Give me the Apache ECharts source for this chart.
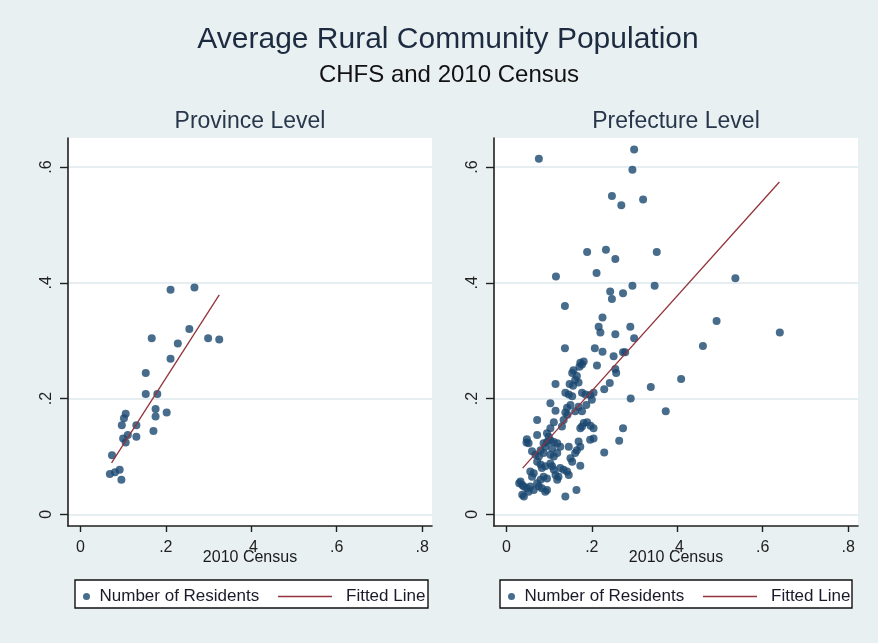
<!DOCTYPE html>
<html>
<head>
<meta charset="utf-8">
<script src="https://cdn.jsdelivr.net/npm/echarts@6/dist/echarts.min.js"></script>
<style>
  html, body { margin: 0; padding: 0; background: #e9f0f2; }
  #chart { width: 878px; height: 643px; }
</style>
</head>
<body>
<div id="chart"></div>
<script>
// Tick positions shown on both panels
const xTicks = [0, 0.2, 0.4, 0.6, 0.8];
const yTicks = [0, 0.2, 0.4, 0.6];

// Province level: [2010 Census, CHFS number of residents]
const provincePoints = [
  [0.211, 0.388], [0.267, 0.392], [0.255, 0.320], [0.167, 0.304], [0.299, 0.304],
  [0.325, 0.302], [0.228, 0.295], [0.211, 0.269], [0.153, 0.244], [0.153, 0.208],
  [0.180, 0.208], [0.176, 0.182], [0.176, 0.169], [0.202, 0.176], [0.171, 0.144],
  [0.106, 0.174], [0.102, 0.166], [0.097, 0.154], [0.131, 0.154], [0.131, 0.134],
  [0.111, 0.137], [0.100, 0.131], [0.106, 0.124], [0.074, 0.102], [0.069, 0.070],
  [0.081, 0.073], [0.092, 0.077], [0.096, 0.060]
];
const provinceFitX = [0.073, 0.325];
const provinceFitY = [0.089, 0.379];

// Prefecture level: [2010 Census, CHFS number of residents]
const prefecturePoints = [
  [0.076, 0.614], [0.299, 0.630], [0.295, 0.595], [0.247, 0.550], [0.269, 0.534], [0.320, 0.544],
  [0.189, 0.453], [0.233, 0.457], [0.255, 0.441], [0.352, 0.453], [0.116, 0.411], [0.211, 0.417],
  [0.295, 0.395], [0.347, 0.395], [0.243, 0.385], [0.247, 0.372], [0.273, 0.382], [0.137, 0.360],
  [0.225, 0.340], [0.216, 0.324], [0.220, 0.314], [0.255, 0.311], [0.290, 0.324], [0.299, 0.304],
  [0.137, 0.287], [0.207, 0.287], [0.225, 0.281],
  [0.536, 0.408], [0.492, 0.334], [0.640, 0.314], [0.460, 0.291], [0.409, 0.234], [0.373, 0.178],
  [0.338, 0.220], [0.291, 0.200], [0.273, 0.149], [0.264, 0.127], [0.229, 0.107],
  [0.251, 0.273], [0.273, 0.280], [0.278, 0.280],
  [0.173, 0.262], [0.181, 0.264], [0.171, 0.255], [0.177, 0.259],
  [0.212, 0.257], [0.157, 0.249], [0.154, 0.244], [0.255, 0.251], [0.257, 0.244],
  [0.165, 0.239], [0.161, 0.232], [0.169, 0.228], [0.115, 0.225], [0.242, 0.227], [0.229, 0.216],
  [0.148, 0.225], [0.156, 0.222], [0.138, 0.210], [0.146, 0.207], [0.154, 0.204],
  [0.177, 0.210], [0.185, 0.207], [0.196, 0.206], [0.204, 0.210], [0.200, 0.198],
  [0.103, 0.192], [0.115, 0.179], [0.142, 0.184], [0.150, 0.189], [0.138, 0.176],
  [0.169, 0.186], [0.177, 0.178], [0.187, 0.189], [0.161, 0.178],
  [0.143, 0.172], [0.134, 0.163], [0.130, 0.152], [0.072, 0.163], [0.111, 0.159], [0.103, 0.149],
  [0.181, 0.158], [0.189, 0.159], [0.197, 0.153], [0.204, 0.149], [0.177, 0.152], [0.173, 0.149],
  [0.204, 0.131], [0.196, 0.129], [0.072, 0.137], [0.095, 0.140], [0.099, 0.134],
  [0.048, 0.130], [0.047, 0.124], [0.052, 0.123],
  [0.087, 0.123], [0.095, 0.125], [0.103, 0.128], [0.111, 0.125], [0.119, 0.123], [0.126, 0.117],
  [0.091, 0.117], [0.107, 0.114], [0.146, 0.117], [0.165, 0.111], [0.173, 0.117], [0.161, 0.106],
  [0.169, 0.126], [0.060, 0.109], [0.068, 0.103], [0.076, 0.100], [0.080, 0.111], [0.087, 0.106],
  [0.103, 0.103], [0.111, 0.100], [0.119, 0.106], [0.150, 0.097], [0.154, 0.091], [0.173, 0.084],
  [0.072, 0.091], [0.080, 0.086], [0.083, 0.080], [0.091, 0.083],
  [0.103, 0.088], [0.107, 0.083], [0.111, 0.077], [0.126, 0.080], [0.134, 0.077],
  [0.146, 0.068], [0.142, 0.074], [0.056, 0.074], [0.064, 0.071], [0.060, 0.065],
  [0.087, 0.065], [0.095, 0.062], [0.080, 0.060], [0.119, 0.060], [0.122, 0.065], [0.115, 0.068],
  [0.033, 0.057], [0.037, 0.051], [0.041, 0.048], [0.048, 0.045], [0.056, 0.048], [0.064, 0.042],
  [0.072, 0.054], [0.076, 0.048], [0.095, 0.042], [0.091, 0.039], [0.037, 0.034], [0.041, 0.031],
  [0.138, 0.031], [0.164, 0.042], [0.052, 0.039], [0.083, 0.045], [0.030, 0.054]
];
const prefectureFitX = [0.038, 0.639];
const prefectureFitY = [0.080, 0.574];

const panelTitles = ['Province Level', 'Prefecture Level'];
const seriesNames = ['Number of Residents', 'Fitted Line'];

const NAVY = '#1a476f';
const MAROON = '#93343c';
const AXIS = '#1f1f1f';
const FONT = '"Liberation Sans", Arial, sans-serif';

const tickFmt = v => (v === 0 ? '0' : String(+v.toFixed(1)).replace(/^0/, ''));

const grids = [
  { left: 68, top: 138, width: 364, height: 388 },
  { left: 494, top: 138, width: 364, height: 388 }
];

function xAxisFor(i) {
  return {
    gridIndex: i, type: 'value', min: -0.029, max: 0.823,
    name: '2010 Census', nameLocation: 'middle', nameGap: 24, nameMoveOverlap: false,
    nameTextStyle: { fontFamily: FONT, fontSize: 16, color: '#1a1a1a' },
    axisLine: { show: true, onZero: false, lineStyle: { color: AXIS, width: 1.6 } },
    axisTick: { show: true, length: 6, customValues: xTicks, lineStyle: { color: AXIS, width: 1.4 } },
    axisLabel: { customValues: xTicks, formatter: tickFmt, margin: 14,
                 fontFamily: FONT, fontSize: 16, color: '#222' },
    splitLine: { show: false }
  };
}
function yAxisFor(i) {
  return {
    gridIndex: i, type: 'value', min: -0.02, max: 0.65,
    axisLine: { show: true, onZero: false, lineStyle: { color: AXIS, width: 1.6 } },
    axisTick: { show: true, length: 8, customValues: yTicks, lineStyle: { color: AXIS, width: 1.4 } },
    axisLabel: { customValues: yTicks, formatter: tickFmt, rotate: 90, margin: 13,
                 fontFamily: FONT, fontSize: 16, color: '#222' },
    splitLine: { show: true, lineStyle: { color: '#e6eef1', width: 2 } }
  };
}

function scatterSeries(i, pts) {
  return {
    name: seriesNames[0], type: 'scatter', xAxisIndex: i, yAxisIndex: i,
    data: pts, symbol: 'circle', symbolSize: 8, clip: false,
    itemStyle: { color: NAVY }
  };
}
function fitSeries(i, xs, ys) {
  return {
    name: seriesNames[1], type: 'line', xAxisIndex: i, yAxisIndex: i,
    data: xs.map((x, k) => [x, ys[k]]), showSymbol: false, symbol: 'none',
    lineStyle: { color: MAROON, width: 1.3 }, itemStyle: { color: MAROON }
  };
}

function legendPair(dx) {
  const common = { orient: 'horizontal', top: 583, selectedMode: false,
                   textStyle: { fontFamily: FONT, fontSize: 17, color: '#1a1a2a' } };
  return [
    Object.assign({}, common, {
      left: 78 + dx, itemWidth: 16, itemHeight: 7,
      data: [{ name: seriesNames[0], icon: 'circle', itemStyle: { color: NAVY } }]
    }),
    Object.assign({}, common, {
      left: 273 + dx, itemWidth: 54, itemHeight: 1.5,
      data: [{ name: seriesNames[1], icon: 'rect', itemStyle: { color: MAROON } }],
      textStyle: Object.assign({}, common.textStyle, { padding: [0, 0, 0, 9] })
    })
  ];
}

const chart = echarts.init(document.getElementById('chart'), null, { renderer: 'canvas' });

chart.setOption({
  backgroundColor: '#e9f0f2',
  animation: false,
  grid: grids.map(g => Object.assign({ show: true, backgroundColor: '#ffffff', borderWidth: 0 }, g)),
  xAxis: [xAxisFor(0), xAxisFor(1)],
  yAxis: [yAxisFor(0), yAxisFor(1)],
  legend: legendPair(0).concat(legendPair(425)),
  graphic: [
    { type: 'text', x: 448, y: 40, z: 10,
      style: { text: 'Average Rural Community Population', fontFamily: FONT, fontSize: 30,
               fill: '#1d2b40', align: 'center', verticalAlign: 'middle' } },
    { type: 'text', x: 449, y: 75, z: 10,
      style: { text: 'CHFS and 2010 Census', fontFamily: FONT, fontSize: 24,
               fill: '#111111', align: 'center', verticalAlign: 'middle' } },
    { type: 'text', x: grids[0].left + grids[0].width / 2, y: 122, z: 10,
      style: { text: panelTitles[0], fontFamily: FONT, fontSize: 23,
               fill: '#27364a', align: 'center', verticalAlign: 'middle' } },
    { type: 'text', x: grids[1].left + grids[1].width / 2, y: 122, z: 10,
      style: { text: panelTitles[1], fontFamily: FONT, fontSize: 23,
               fill: '#27364a', align: 'center', verticalAlign: 'middle' } },
    { type: 'rect', z: -1, shape: { x: 75, y: 580, width: 353, height: 28 },
      style: { fill: '#ffffff', stroke: '#111111', lineWidth: 1.4 } },
    { type: 'rect', z: -1, shape: { x: 500, y: 580, width: 352, height: 28 },
      style: { fill: '#ffffff', stroke: '#111111', lineWidth: 1.4 } }
  ],
  series: [
    scatterSeries(0, provincePoints),
    fitSeries(0, provinceFitX, provinceFitY),
    scatterSeries(1, prefecturePoints),
    fitSeries(1, prefectureFitX, prefectureFitY)
  ]
});
</script>
</body>
</html>
